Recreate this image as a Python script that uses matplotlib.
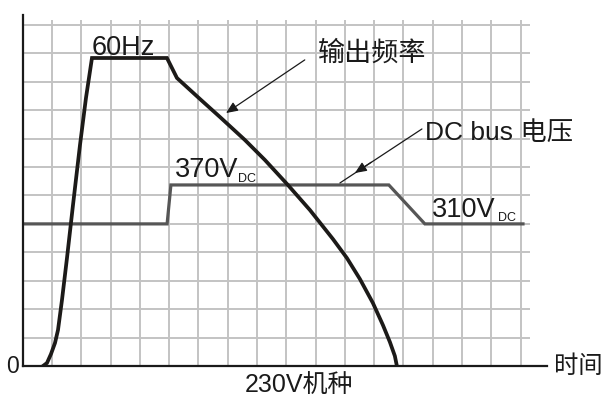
import matplotlib
matplotlib.use("Agg")
import matplotlib.pyplot as plt
import numpy as np

plt.rcParams['font.family'] = ['Liberation Sans', 'Noto Sans CJK SC', 'DejaVu Sans']

# Output frequency curve (grid units)
freq_x = [0.693, 0.829, 0.966, 1.102, 1.205, 1.341, 1.512, 1.717, 1.956, 2.160, 2.365,
          4.925, 5.266, 6.051, 6.734, 7.587, 8.270, 9.055, 9.805, 10.590, 11.068,
          11.512, 11.956, 12.297, 12.536, 12.706, 12.775]
freq_y = [0.000, 0.106, 0.422, 0.809, 1.267, 2.322, 3.800, 5.665, 7.776, 9.430, 10.837,
          10.837, 10.134, 9.395, 8.761, 7.952, 7.248, 6.369, 5.489, 4.469, 3.800,
          3.061, 2.217, 1.443, 0.844, 0.352, 0.000]

# DC bus voltage curve (grid units)
dc_x = [0.0, 4.93, 5.06, 12.50, 13.73, 17.08]
dc_y = [5.00, 5.00, 6.37, 6.37, 5.00, 5.00]

xlim_max = 17.9
ylim_max = 12.35
n_vgrid = 17
n_hgrid = 12

fig = plt.figure(figsize=(6.06, 3.98), dpi=100)
ax = fig.add_axes([22.7 / 606, (398 - 366) / 398, (547 - 22.7) / 606, (366 - 15) / 398])
ax.set_xlim(0, xlim_max)
ax.set_ylim(0, ylim_max)
ax.set_xticks([])
ax.set_yticks([])
for s in ['top', 'right']:
    ax.spines[s].set_visible(False)
for s in ['left', 'bottom']:
    ax.spines[s].set_color('#1a1a1a')
    ax.spines[s].set_linewidth(1.6)
    ax.spines[s].set_zorder(5)

grid_c = '#c3c3c3'
ax.hlines(np.arange(1, n_hgrid + 1), 0, 17.31, color=grid_c, lw=1.4, zorder=1)
ax.vlines(np.arange(1, n_vgrid + 1), 0, 12.17, color=grid_c, lw=1.4, zorder=1)

ax.plot(dc_x, dc_y, color='#565656', lw=2.3, zorder=3, solid_joinstyle='miter')
ax.plot(freq_x, freq_y, color='#1c1a18', lw=2.7, zorder=4, solid_joinstyle='miter')

tc = '#1a1a1a'
ax.text(2.37, 10.94, '60Hz', fontsize=19.5, color=tc, ha='left', va='baseline')
ax.text(10.08, 11.0, '输出频率', fontsize=19.5, color=tc, ha='left', va='center',
        family=['Noto Sans CJK SC', 'DejaVu Sans'])
ax.text(13.73, 7.95, 'DC bus 电压', fontsize=19, color=tc, ha='left', va='baseline')
ax.text(5.2, 6.65, '370V', fontsize=19.5, color=tc, ha='left', va='baseline')
ax.text(7.36, 6.47, 'DC', fontsize=9, color=tc, ha='left', va='baseline')
ax.text(13.97, 5.24, '310V', fontsize=19.5, color=tc, ha='left', va='baseline')
ax.text(16.22, 5.10, 'DC', fontsize=9, color=tc, ha='left', va='baseline')
ax.text(-0.12, -0.03, '0', fontsize=16.5, color=tc, ha='right', va='center')
ax.text(9.43, -0.72, '230V机种', fontsize=18, color=tc, ha='center', va='center')
ax.text(18.13, 0.0, '时间', fontsize=17.5, color=tc, ha='left', va='center',
        family=['Noto Sans CJK SC', 'DejaVu Sans'])

# Arrow to output frequency
ax.annotate('', xy=(6.94, 8.90), xytext=(9.63, 10.77),
            arrowprops=dict(arrowstyle='-|>,head_length=0.7,head_width=0.3', color='#1a1a1a',
                            lw=0.9, shrinkA=0, shrinkB=0), zorder=6)
# Arrow to DC bus
ax.annotate('', xy=(10.83, 6.44), xytext=(13.63, 8.34),
            arrowprops=dict(arrowstyle='-', color='#1a1a1a', lw=0.9, shrinkA=0, shrinkB=0), zorder=6)
ax.annotate('', xy=(11.34, 6.79), xytext=(11.9, 7.17),
            arrowprops=dict(arrowstyle='-|>,head_length=0.7,head_width=0.3', color='#1a1a1a',
                            lw=0.9, shrinkA=0, shrinkB=0), zorder=6)

fig.savefig('out.png', dpi=100, facecolor='white')
